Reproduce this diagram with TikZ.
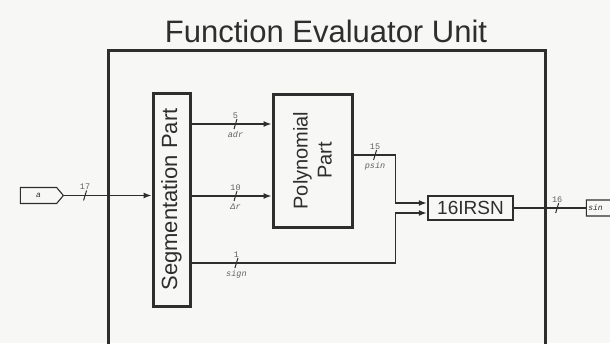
\documentclass[tikz,border=0pt]{standalone}
\usepackage{fontspec}
\setmainfont{Liberation Sans}
\setmonofont{Liberation Mono}
\usetikzlibrary{arrows.meta,positioning,shapes.symbols}
\definecolor{ink}{HTML}{2E2E2E}
\definecolor{paper}{HTML}{F7F7F5}

\begin{document}
\begin{tikzpicture}[x=1pt,y=-1pt,
  every node/.style={text=ink},
  block/.style={draw=ink,line width=3pt,inner sep=0pt,fill=paper},
  blocktxt/.style={font=\fontsize{20}{24}\selectfont,align=center,rotate=90},
  port/.style={draw=ink,line width=1.1pt,signal,signal to=east,signal pointer angle=100,
    minimum width=43pt,minimum height=16pt,inner sep=0pt,fill=paper,
    font=\ttfamily\itshape\fontsize{8}{8}\selectfont},
  wire/.style={draw=ink,line width=1.4pt},
  arr/.style={wire,-{Latex[length=8pt,width=6pt]}},
  busw/.style={font=\ttfamily\fontsize{8.5}{8.5}\selectfont,text=ink!75,above=4pt,inner sep=1pt},
  busn/.style={font=\ttfamily\itshape\fontsize{8.5}{8.5}\selectfont,text=ink!75,below=6pt,inner sep=1pt},
  slash/.pic={\draw[-,ink,line width=1pt] (-1.5,5) -- (1.5,-5);}
]
\path[fill=paper,use as bounding box] (0,0) rectangle (610,343);

% unit frame and title
\node[font=\fontsize{31}{33}\selectfont] (title) at (326,31) {Function Evaluator Unit};
\node[block,fill=none,minimum width=437pt,minimum height=320pt] (unit) at (326.5,210) {};

% blocks
\node[block,minimum width=37pt,minimum height=213pt] (seg) at (171.5,199.5) {};
\node[blocktxt,font=\fontsize{22}{24}\selectfont] (segtxt) at (seg.center) {Segmentation Part};
\node[block,minimum width=79pt,minimum height=133pt] (poly) at (312.5,160.5) {};
\node[blocktxt] (polytxt) at (poly.center) {Polynomial\\Part};
\node[block,line width=2.5pt,minimum width=85pt,minimum height=24pt,
  font=\fontsize{19}{20}\selectfont] (irsn) at (470.5,208) {16IRSN};

% ports
\node[port] (inport) at (38.5,195.5) {a};
\node[port] (outport) at (604.5,208) {sin\hspace*{18pt}};

% buses
\draw[arr] (inport.east) -- (seg.west |- inport.east)
  pic[pos=.24]{slash} node[pos=.24,busw]{17};
\draw[arr] (seg.east |- 0,124) -- (poly.west |- 0,124)
  pic[pos=.55]{slash} node[pos=.55,busw]{5} node[pos=.55,busn]{adr};
\draw[arr] (seg.east |- 0,196) -- (poly.west |- 0,196)
  pic[pos=.55]{slash} node[pos=.55,busw]{10} node[pos=.55,busn]{Δr};
\draw[arr] (poly.east |- 0,155) -| ([xshift=-31pt,yshift=5pt]irsn.west)
  pic[pos=.255]{slash} node[pos=.255,busw]{15} node[pos=.255,busn]{psin}
  -- ([yshift=5pt]irsn.west);
\draw[arr] (seg.east |- 0,263) -| ([xshift=-31pt,yshift=-5pt]irsn.west)
  pic[pos=.11]{slash} node[pos=.11,busw]{1} node[pos=.11,busn]{sign}
  -- ([yshift=-5pt]irsn.west);
\draw[wire] (irsn.east) -- (outport.west)
  pic[pos=.6]{slash} node[pos=.6,busw]{16};
\end{tikzpicture}
\end{document}
